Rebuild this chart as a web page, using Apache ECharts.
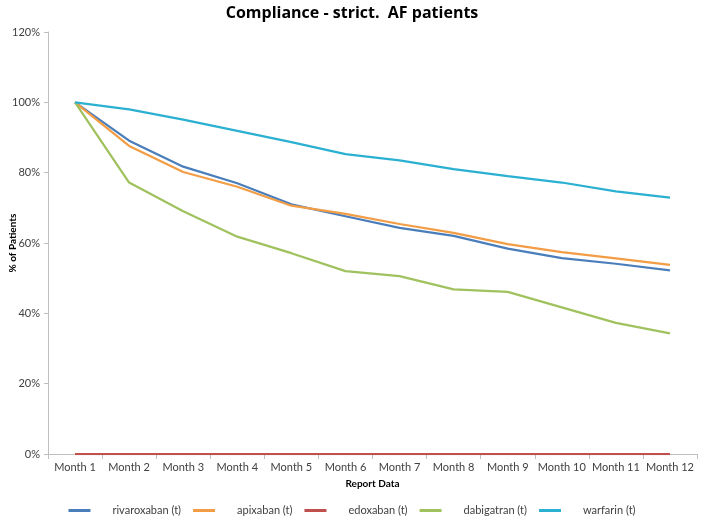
<!DOCTYPE html>
<html><head><meta charset="utf-8">
<script src="https://cdn.jsdelivr.net/npm/echarts@6/dist/echarts.min.js"></script>
<style>html,body{margin:0;padding:0;background:#fff}#c{width:704px;height:519px}</style>
</head><body><div id="c"></div>
<script>
var categories = ['Month 1','Month 2','Month 3','Month 4','Month 5','Month 6','Month 7','Month 8','Month 9','Month 10','Month 11','Month 12'];
var rivaroxaban = [100, 89.1, 81.7, 77.0, 71.0, 67.6, 64.3, 62.0, 58.4, 55.7, 54.1, 52.2];
var apixaban    = [100, 87.6, 80.2, 76.0, 70.6, 68.3, 65.4, 62.9, 59.7, 57.4, 55.6, 53.8];
var edoxaban    = [0, 0, 0, 0, 0, 0, 0, 0, 0, 0, 0, 0];
var dabigatran  = [100, 77.2, 69.0, 61.8, 57.1, 52.0, 50.6, 46.8, 46.1, 41.7, 37.3, 34.3];
var warfarin    = [100, 98.0, 95.1, 91.9, 88.7, 85.3, 83.5, 81.0, 79.0, 77.2, 74.7, 72.9];
var yTicks = [0, 20, 40, 60, 80, 100, 120];

var names = ['rivaroxaban (t)','apixaban (t)','edoxaban (t)','dabigatran (t)','warfarin (t)'];
var datas = [rivaroxaban, apixaban, edoxaban, dabigatran, warfarin];
var colors = ['#4A7EBB','#F29D45','#C0504D','#A0C25E','#2BB0D2'];
var font = 'Lato';

var chart = echarts.init(document.getElementById('c'));
chart.setOption({
  animation: false,
  color: colors,
  title: {
    text: 'Compliance - strict.  AF patients',
    left: 'center', top: 0,
    textStyle: {fontFamily: 'Open Sans', fontSize: 16, fontWeight: 'bold', color: '#000'}
  },
  grid: {left: 48, right: 7, top: 32, bottom: 65, containLabel: false, outerBoundsMode: 'none'},
  legend: {
    top: 505, left: 'center', padding: 0,
    icon: 'rect', itemWidth: 22, itemHeight: 3, itemGap: 12,
    textStyle: {fontFamily: font, fontSize: 11, color: '#404040', padding: [0,0,0,17]},
    data: names
  },
  xAxis: {
    type: 'category', data: categories, boundaryGap: true,
    name: 'Report Data', nameLocation: 'middle', nameGap: 25, nameMoveOverlap: false,
    nameTextStyle: {fontFamily: font, fontSize: 10, fontWeight: 'bold', color: '#000'},
    axisLine: {lineStyle: {color: '#BFBFBF'}},
    axisTick: {show: true, alignWithLabel: false, length: 5, lineStyle: {color: '#BFBFBF'}},
    axisLabel: {fontFamily: font, fontSize: 11, color: '#404040', margin: 8, interval: 0}
  },
  yAxis: {
    type: 'value', min: 0, max: 120, interval: 20,
    name: '% of Patients', nameLocation: 'middle', nameGap: 30, nameMoveOverlap: false,
    nameTextStyle: {fontFamily: font, fontSize: 10, fontWeight: 'bold', color: '#000'},
    axisLine: {show: true, lineStyle: {color: '#BFBFBF'}},
    axisTick: {show: true, length: 4, lineStyle: {color: '#BFBFBF'}},
    splitLine: {show: false},
    axisLabel: {fontFamily: font, fontSize: 11, color: '#404040', margin: 8, formatter: function(v){return v + '%';}}
  },
  series: names.map(function(n, i){
    return {name: n, type: 'line', data: datas[i], symbol: 'none', smooth: false,
            lineStyle: {width: 2.25, color: colors[i]}, itemStyle: {color: colors[i]}, z: (i===2?1:2)};
  })
});
</script></body></html>
